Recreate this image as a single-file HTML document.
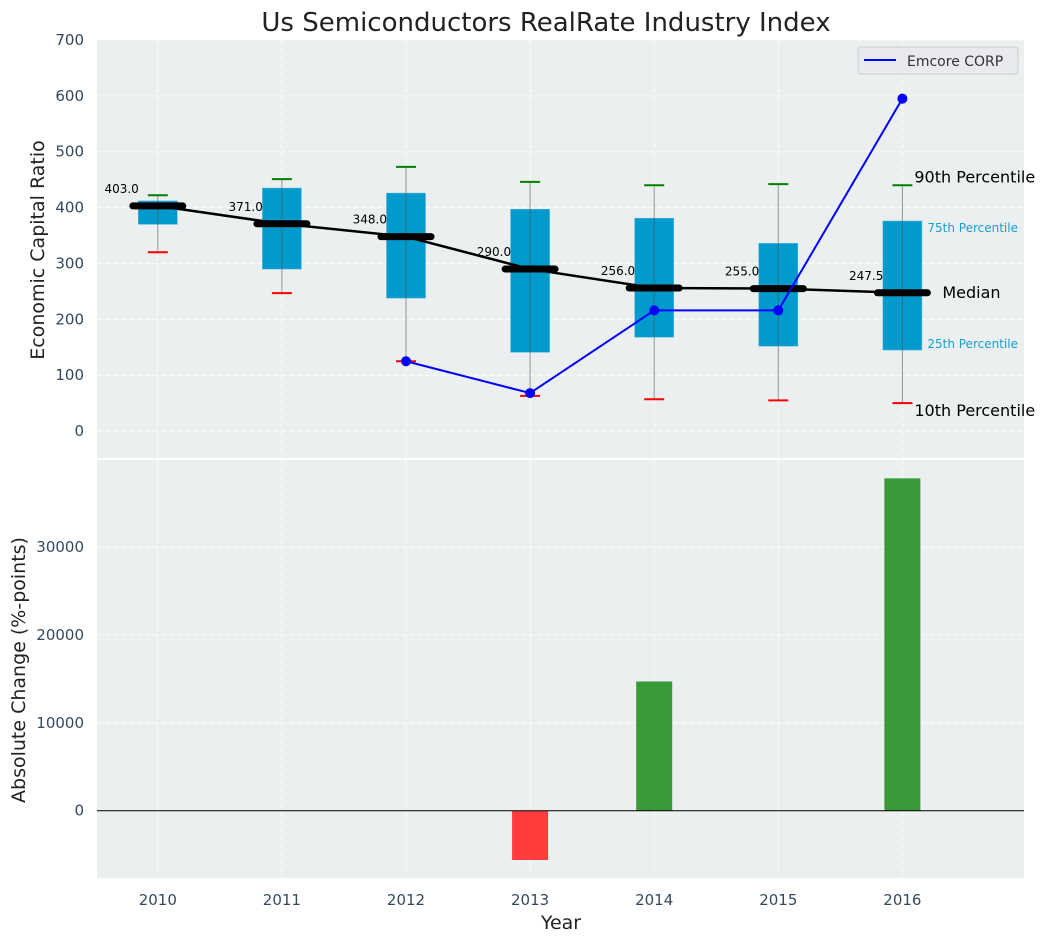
<!DOCTYPE html>
<html><head><meta charset="utf-8">
<style>
body{margin:0;background:#fff;font-family:"Liberation Sans","DejaVu Sans",sans-serif;}
svg{display:block;}
</style></head>
<body>
<svg id="chart" width="1050" height="942" viewBox="0 0 1050 942" xmlns="http://www.w3.org/2000/svg" font-family="DejaVu Sans, Liberation Sans, sans-serif">
<text x="546" y="31" font-size="26" text-anchor="middle" fill="#222">Us Semiconductors RealRate Industry Index</text>
<g id="topPanel"></g>
<g id="botPanel"></g>
<text transform="translate(44,250) rotate(-90)" font-size="19" text-anchor="middle" fill="#222">Economic Capital Ratio</text>
<text transform="translate(25,670) rotate(-90)" font-size="19" text-anchor="middle" fill="#222">Absolute Change (%-points)</text>
<text x="561" y="929" font-size="19" text-anchor="middle" fill="#222">Year</text>
<g>
<rect x="858" y="47" width="160" height="27" rx="3" fill="#e8eaed" stroke="#ccc"/>
<line x1="864" y1="60" x2="896" y2="60" stroke="#0000ff" stroke-width="2"/>
<text x="907" y="66" font-size="14" fill="#333">Emcore CORP</text>
</g>
</svg>
<script>
const years=["2010","2011","2012","2013","2014","2015","2016"];
const p10=[320,247,125,63,57,55,50];
const p25=[370,290,238,141,168,152,145];
const median=[403,371,348,290,256,255,247.5];
const p75=[412,435,426,397,381,336,376];
const p90=[422,451,473,446,440,442,440];
const emcore=[null,null,125,68,216,216,595];
const change=[0,0,0,-5600,14700,0,37800];
const topTicks=[0,100,200,300,400,500,600,700];
const botTicks=[0,10000,20000,30000];

const NS="http://www.w3.org/2000/svg";
function el(parent,tag,attrs,text){const e=document.createElementNS(NS,tag);for(const k in attrs)e.setAttribute(k,attrs[k]);if(text!==undefined)e.textContent=text;parent.appendChild(e);return e;}
const L=97,R=1024;
const x=i=>L+(i+0.49)*(R-L)/7.47;
const T0=40,T1=459,yT=v=>T0+(700-v)*(T1-T0)/750;
const B0=459,B1=878,yB=v=>B0+(40000-v)*(B1-B0)/47650;
const topG=document.getElementById('topPanel'),botG=document.getElementById('botPanel');

let r=el(topG,'rect',{x:L,y:T0,width:R-L,height:T1-T0,fill:'#ebeff0'});


r=el(botG,'rect',{x:L,y:B0+1,width:R-L,height:B1-B0-1,fill:'#ebeff0'});


el(topG,'line',{x1:L,x2:R,y1:B0,y2:B0,stroke:'#fff','stroke-width':2});

topTicks.forEach(t=>{
 el(topG,'line',{x1:L,x2:R,y1:yT(t),y2:yT(t),stroke:'#fff','stroke-dasharray':'5,3','stroke-width':0.8});
 const tx=el(topG,'text',{x:L-13,y:yT(t)+5,'font-size':15,'text-anchor':'end',fill:'#34495e'},t);
 
 
});
botTicks.forEach(t=>{
 el(botG,'line',{x1:L,x2:R,y1:yB(t),y2:yB(t),stroke:'#fff','stroke-dasharray':'5,3','stroke-width':0.8});
 const tx=el(botG,'text',{x:L-13,y:yB(t)+5,'font-size':15,'text-anchor':'end',fill:'#34495e'},t);
 
 
});
years.forEach((yr,i)=>{
 el(topG,'line',{x1:x(i),x2:x(i),y1:T0,y2:T1,stroke:'#fff','stroke-dasharray':'5,3','stroke-width':0.8});
 el(botG,'line',{x1:x(i),x2:x(i),y1:B0,y2:B1,stroke:'#fff','stroke-dasharray':'5,3','stroke-width':0.8});
 const tx=el(botG,'text',{x:x(i),y:905,'font-size':15,'text-anchor':'middle',fill:'#34495e'},yr);
 
 
});

years.forEach((yr,i)=>{
 const cx=x(i);
 const b=el(topG,'rect',{x:cx-19.5,y:yT(p75[i]),width:39,height:yT(p25[i])-yT(p75[i]),fill:'#009acd',stroke:'#4fb6dc','stroke-width':0.5});
 
 
 el(topG,'line',{x1:cx,x2:cx,y1:yT(p90[i]),y2:yT(p10[i]),stroke:'#555','stroke-opacity':0.6,'stroke-width':1});
 const c1=el(topG,'line',{x1:cx-10,x2:cx+10,y1:yT(p90[i]),y2:yT(p90[i]),stroke:'#008000','stroke-width':2});
 
 
 const c2=el(topG,'line',{x1:cx-10,x2:cx+10,y1:yT(p10[i]),y2:yT(p10[i]),stroke:'#ff0000','stroke-width':2});
 
 
});
el(topG,'polyline',{points:median.map((m,i)=>x(i)+','+yT(m)).join(' '),fill:'none',stroke:'#000','stroke-width':2.5});
years.forEach((yr,i)=>{
 const cx=x(i),cy=yT(median[i]);
 const m=el(topG,'line',{x1:cx-25,x2:cx+25,y1:cy,y2:cy,stroke:'#000','stroke-width':7,'stroke-linecap':'round'});
 
 
 const t=el(topG,'text',{x:cx-19,y:cy-13,'font-size':12,'text-anchor':'end',fill:'#000'},median[i].toFixed(1));
 
 
});
const pts=[];emcore.forEach((v,i)=>{if(v!==null)pts.push([x(i),yT(v)]);});
el(topG,'polyline',{points:pts.map(p=>p.join(',')).join(' '),fill:'none',stroke:'#0000ff','stroke-width':2});
pts.forEach(p=>{const c=el(topG,'circle',{cx:p[0],cy:p[1],r:5,fill:'#0000ff'});
 
 });
const li=6,lx=x(li);
const ann=[["90th Percentile",yT(p90[li])-3,lx+12,16,'#000'],["75th Percentile",yT(p75[li])+11,lx+25,12,'#1a9fd0'],["Median",yT(median[li])+5,lx+40,16,'#000'],["25th Percentile",yT(p25[li])-2,lx+25,12,'#1a9fd0'],["10th Percentile",yT(p10[li])+13,lx+12,16,'#000']];
ann.forEach(a=>{const t=el(topG,'text',{x:a[2],y:a[1],'font-size':a[3],fill:a[4]},a[0]);
 
 });

change.forEach((v,i)=>{
 if(v===0)return;
 const y0=yB(0),y1=yB(v);
 const b=el(botG,'rect',{x:x(i)-18,y:Math.min(y0,y1),width:36,height:Math.abs(y1-y0),fill:v>0?'#3a9a3a':'#ff3b3b'});
 
 
});
el(botG,'line',{x1:L,x2:R,y1:yB(0),y2:yB(0),stroke:'#000','stroke-width':1});
</script>
</body></html>
